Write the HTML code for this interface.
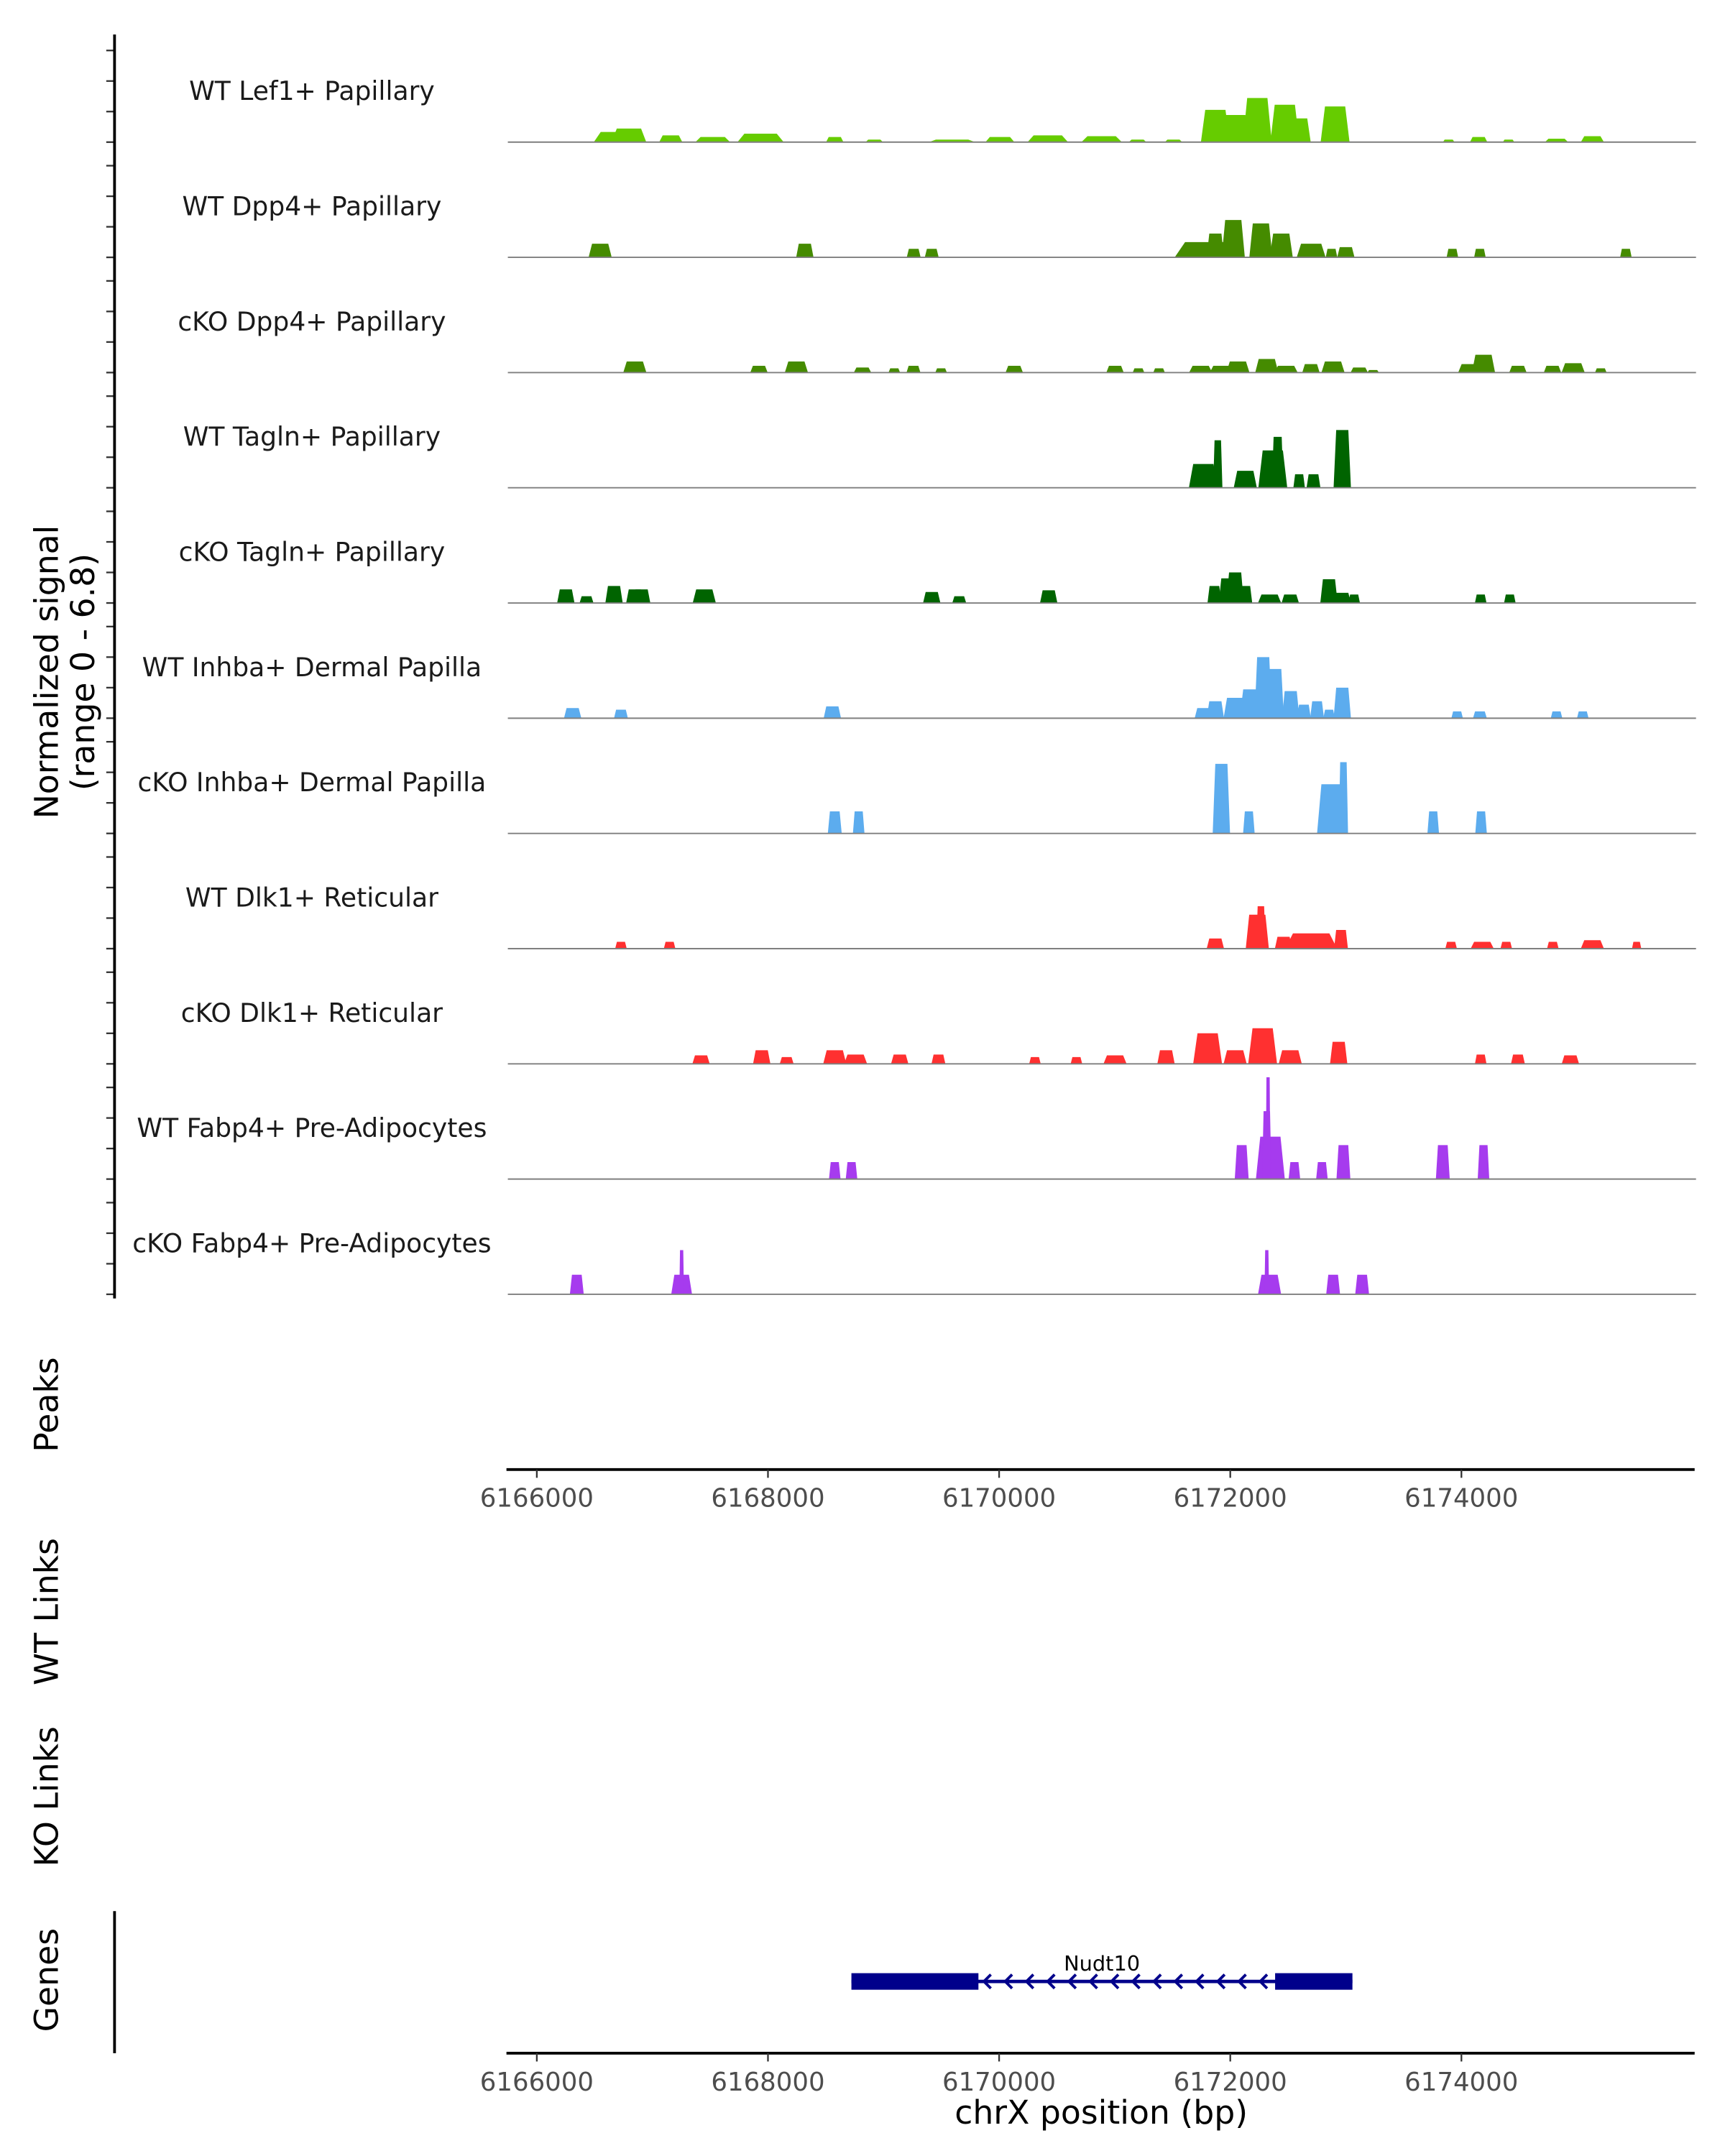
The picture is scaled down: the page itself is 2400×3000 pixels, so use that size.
<!DOCTYPE html>
<html><head><meta charset="utf-8"><style>
html,body{margin:0;padding:0;background:#fff;}
svg{display:block;}
text{font-family:"DejaVu Sans","Liberation Sans",sans-serif;}
</style></head><body>
<svg id="chart" xmlns="http://www.w3.org/2000/svg" width="2400" height="3000" viewBox="0 0 1250 1562.5">
<rect width="1250" height="1562.5" fill="#fff"/>
<g id="tracks"></g>
<g id="axes"></g>
</svg>
<script>
const trackNames = ["WT Lef1+ Papillary","WT Dpp4+ Papillary","cKO Dpp4+ Papillary","WT Tagln+ Papillary","cKO Tagln+ Papillary","WT Inhba+ Dermal Papilla","cKO Inhba+ Dermal Papilla","WT Dlk1+ Reticular","cKO Dlk1+ Reticular","WT Fabp4+ Pre-Adipocytes","cKO Fabp4+ Pre-Adipocytes"];
const trackColors = ["#66CC00","#458B00","#458B00","#006400","#006400","#5CACEE","#5CACEE","#FF3030","#FF3030","#A63BEE","#A63BEE"];
// peaks: [center bp, width bp, signal]
const lef1WT = [[6166693,400,0.6],[6166797,300,0.8],[6167159,200,0.4],[6167522,300,0.3],[6167936,400,0.5],[6168578,150,0.3],[6168920,150,0.15],[6169593,400,0.15],[6170007,250,0.3],[6170421,350,0.4],[6170887,350,0.35],[6171198,150,0.15],[6171509,150,0.15],[6171871,250,1.9],[6172026,300,1.6],[6172234,250,2.6],[6172472,250,2.2],[6172596,200,1.4],[6172907,250,2.1],[6173890,100,0.15],[6174149,150,0.3],[6174408,100,0.15],[6174823,200,0.2],[6175133,200,0.35]];
const dpp4WT = [[6166548,200,0.8],[6168319,150,0.8],[6169261,120,0.5],[6169417,120,0.5],[6171819,600,0.9],[6171871,150,1.4],[6172026,200,2.2],[6172265,200,2.0],[6172441,200,1.4],[6172700,250,0.8],[6172876,100,0.5],[6173000,150,0.6],[6173922,100,0.5],[6174160,100,0.5],[6175423,100,0.5]];
const dpp4KO = [[6166848,200,0.65],[6167922,150,0.4],[6168246,200,0.65],[6168818,150,0.3],[6169093,100,0.25],[6169259,120,0.4],[6169498,100,0.25],[6170131,150,0.4],[6171003,150,0.4],[6171206,100,0.25],[6171384,100,0.25],[6171744,200,0.4],[6171923,200,0.4],[6172066,200,0.65],[6172316,200,0.8],[6172483,200,0.4],[6172698,150,0.5],[6172889,200,0.65],[6173116,150,0.3],[6173236,100,0.15],[6174072,200,0.5],[6174191,200,1.05],[6174489,150,0.4],[6174788,150,0.4],[6174967,200,0.55],[6175206,100,0.25]];
const taglnWT = [[6171767,250,1.4],[6171892,80,2.8],[6172130,200,1.0],[6172368,250,2.2],[6172410,100,3.0],[6172596,100,0.8],[6172720,120,0.8],[6172969,150,3.4]];
const taglnKO = [[6166251,150,0.8],[6166430,120,0.4],[6166668,150,1.0],[6166848,150,0.8],[6166907,150,0.8],[6167449,200,0.8],[6169417,150,0.65],[6169655,120,0.4],[6170429,150,0.75],[6171863,120,1.0],[6171975,150,1.45],[6172042,150,1.8],[6172130,120,1.0],[6172340,200,0.5],[6172519,150,0.5],[6172854,150,1.4],[6172969,150,0.6],[6173072,100,0.5],[6174167,100,0.5],[6174419,100,0.5]];
const inhbaWT = [[6166310,150,0.6],[6166728,120,0.5],[6168557,150,0.7],[6171767,150,0.6],[6171871,150,1.0],[6172042,200,1.2],[6172182,200,1.7],[6172285,150,3.6],[6172389,150,2.9],[6172523,150,1.6],[6172637,120,0.8],[6172751,120,1.0],[6172855,100,0.5],[6172969,150,1.8],[6173963,100,0.4],[6174160,120,0.4],[6174823,100,0.4],[6175050,100,0.4]];
const inhbaKO = [[6168578,120,1.3],[6168785,100,1.3],[6171923,150,4.1],[6172161,100,1.3],[6172876,250,2.9],[6172979,80,4.2],[6173756,100,1.3],[6174170,100,1.3]];
const dlk1WT = [[6166728,100,0.4],[6167149,100,0.4],[6171871,150,0.6],[6172234,200,2.0],[6172265,80,2.5],[6172461,150,0.7],[6172700,450,0.9],[6172958,120,1.1],[6173911,100,0.4],[6174180,200,0.4],[6174388,100,0.4],[6174791,100,0.4],[6175133,200,0.5],[6175516,80,0.4]];
const dlk1KO = [[6167421,150,0.5],[6167946,150,0.8],[6168162,120,0.4],[6168578,200,0.8],[6168758,200,0.55],[6169140,150,0.55],[6169475,120,0.55],[6170310,100,0.4],[6170669,100,0.4],[6171003,200,0.5],[6171444,150,0.8],[6171804,250,1.8],[6172042,200,0.8],[6172280,250,2.1],[6172519,200,0.8],[6172938,150,1.3],[6174167,100,0.55],[6174489,120,0.55],[6174943,150,0.5]];
const fabp4WT = [[6168578,100,1.0],[6168723,100,1.0],[6172099,120,2.0],[6172347,250,2.5],[6172316,80,4.0],[6172327,40,6.0],[6172555,100,1.0],[6172793,100,1.0],[6172979,120,2.0],[6173839,120,2.0],[6174191,100,2.0]];
const fabp4KO = [[6166346,120,1.15],[6167253,180,1.15],[6167253,40,2.6],[6172340,200,1.15],[6172316,40,2.6],[6172890,120,1.15],[6173141,120,1.15]];
const trackData = [lef1WT,dpp4WT,dpp4KO,taglnWT,taglnKO,inhbaWT,inhbaKO,dlk1WT,dlk1KO,fabp4WT,fabp4KO];
const xTicks = [6166000,6168000,6170000,6172000,6174000];
const yTickVals = [0,1.8,3.6,5.4];
const geneName = "Nudt10";
const geneExons = [[6168722,6169821],[6172388,6173057]];
const geneSpan = [6168722,6173057];

const NS="http://www.w3.org/2000/svg";
const X0=367, X1=1228;
const xs = v => 389 + (v-6166000)*0.08375;
const base0=103, trackH=83.5, unit=12.3;
const ys = (i,v) => base0 + i*trackH - v*unit;
function el(tag, attrs, parent){const e=document.createElementNS(NS,tag);for(const k in attrs)e.setAttribute(k,attrs[k]);parent.appendChild(e);return e;}
const T=document.getElementById('tracks'), A=document.getElementById('axes');

trackNames.forEach((name,i)=>{
  const g=el('g',{},T);
  
  
  trackData[i].forEach(p=>{
    const [c,w,h]=p, a=xs(c-w/2), b=xs(c+w/2), r=(b-a)*0.15;
    const poly=el('polygon',{points:`${a},${ys(i,0)} ${a+r},${ys(i,h)} ${b-r},${ys(i,h)} ${b},${ys(i,0)}`,fill:trackColors[i]},g);
    
    
  });
  const bl=el('line',{x1:X0+1,x2:X1+1,y1:ys(i,0),y2:ys(i,0),stroke:'#7f7f7f','stroke-width':1},g);
  
  
  const t=el('text',{x:226,y:ys(i,0)-30.5,'text-anchor':'middle','font-size':18.8,fill:'#1a1a1a'},g);
  t.textContent=name;
  
  
  yTickVals.forEach(v=>{
    const tk=el('line',{x1:77,x2:83,y1:ys(i,v),y2:ys(i,v),stroke:'#333','stroke-width':1.2},A);
    
    
  });
});
const ya=el('line',{x1:83,x2:83,y1:25,y2:941,stroke:'#000','stroke-width':2},A);


function rotText(x,y,s,lines,name){
  const t=el('text',{transform:`translate(${x},${y}) rotate(-90)`,'text-anchor':'middle','font-size':s,fill:'#000'},A);
  lines.forEach((L,k)=>{const sp=el('tspan',{x:0,dy:k?s*1.1:0},t);sp.textContent=L;});
  
  
}
rotText(42,487,23.8,["Normalized signal","(range 0 - 6.8)"],'y-axis-title');
rotText(42,1018,23.8,["Peaks"],'peaks-label');
rotText(42,1168,23.8,["WT Links"],'wt-links-label');
rotText(42,1302,23.8,["KO Links"],'ko-links-label');
rotText(42,1435,23.8,["Genes"],'genes-label');

function xAxis(y,name){
  const l=el('line',{x1:X0,x2:X1,y1:y,y2:y,stroke:'#000','stroke-width':2},A);
  
  
  xTicks.forEach(v=>{
    const tk=el('line',{x1:xs(v),x2:xs(v),y1:y,y2:y+6,stroke:'#333','stroke-width':1.2},A);
    
    
    const t=el('text',{x:xs(v),y:y+27,'text-anchor':'middle','font-size':18.5,fill:'#4d4d4d'},A);
    t.textContent=v;
    
    
  });
}
xAxis(1065,'peaks-x-axis');
xAxis(1488,'genes-x-axis');
const xt=el('text',{x:798,y:1539,'text-anchor':'middle','font-size':23.8,fill:'#000'},A);
xt.textContent='chrX position (bp)';


const ga=el('line',{x1:83,x2:83,y1:1385,y2:1488,stroke:'#000','stroke-width':2},A);



// gene model
const G=el('g',{},A);


const gy=1436;
el('line',{x1:xs(geneSpan[0]),x2:xs(geneSpan[1]),y1:gy,y2:gy,stroke:'#00008B','stroke-width':2.5},G);
for(let x=xs(geneExons[0][1])+4;x<xs(geneExons[1][0])-4;x+=15.4){
  el('polyline',{points:`${x+5},${gy-5} ${x},${gy} ${x+5},${gy+5}`,fill:'none',stroke:'#00008B','stroke-width':2},G);
}
geneExons.forEach(e=>{
  const r=el('rect',{x:xs(e[0]),y:gy-6,width:xs(e[1])-xs(e[0]),height:12,fill:'#00008B'},G);
  
  
});
const gn=el('text',{x:(xs(geneSpan[0])+xs(geneSpan[1]))/2,y:1427+5,'text-anchor':'middle','font-size':15,fill:'#000'},G);
gn.setAttribute('y',1428);
gn.textContent=geneName;


</script>
</body></html>
